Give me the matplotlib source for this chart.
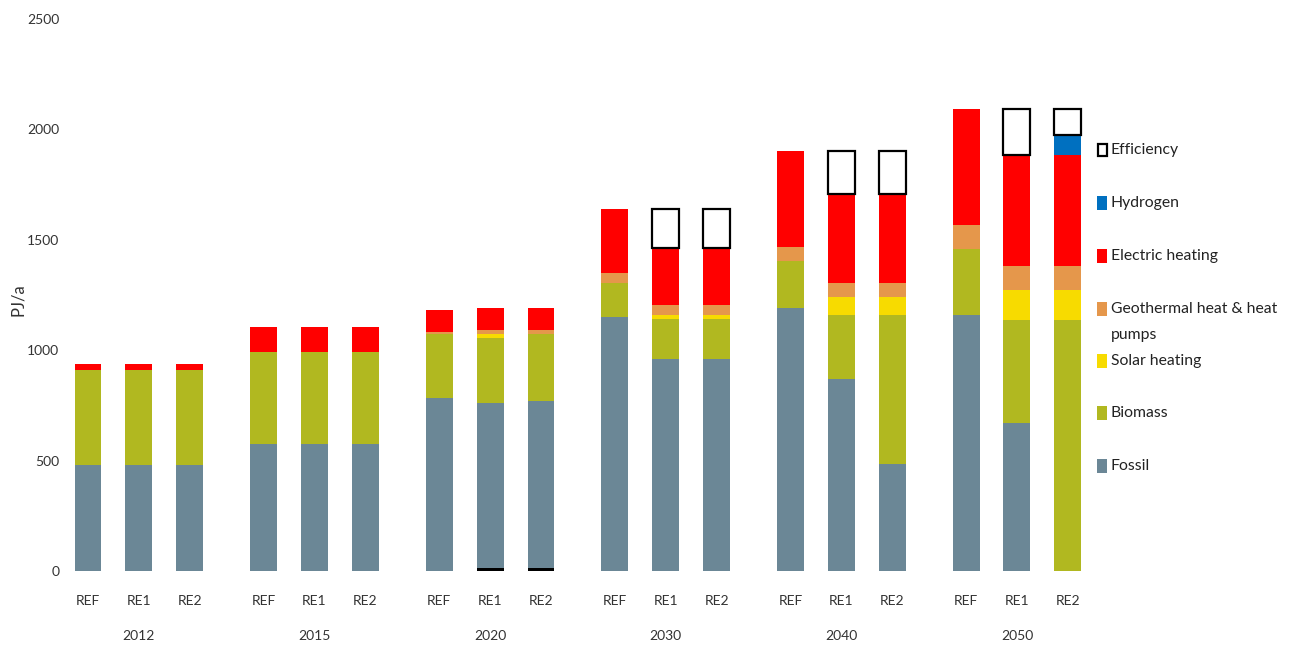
import matplotlib.pyplot as plt
import matplotlib
from matplotlib.patches import Rectangle
import numpy as np

matplotlib.rcParams['font.family'] = ['Lato', 'DejaVu Sans']

years = ['2012', '2015', '2020', '2030', '2040', '2050']
scenarios = ['REF', 'RE1', 'RE2']

# values per bar, order: 2012 REF/RE1/RE2, 2015 ..., 2050 RE2  (PJ/a)
other = [0, 0, 0, 0, 0, 0, 0, 14, 14, 0, 0, 0, 0, 0, 0, 0, 0, 0]
fossil = [480, 480, 480, 575, 575, 575, 784, 747, 756,
          1151, 960, 960, 1191, 870, 485, 1160, 670, 0]
biomass = [430, 430, 430, 417, 417, 417, 290, 294, 304,
           154, 182, 182, 213, 290, 675, 299, 467, 1137]
solar = [0, 0, 0, 0, 0, 0, 0, 19, 0,
         0, 18, 18, 0, 81, 81, 0, 136, 136]
geothermal = [0, 0, 0, 0, 0, 0, 9, 18, 18,
              45, 45, 45, 64, 64, 64, 108, 109, 109]
electric = [28, 28, 28, 113, 113, 113, 99, 99, 99,
            290, 258, 258, 435, 403, 403, 526, 502, 502]
hydrogen = [0, 0, 0, 0, 0, 0, 0, 0, 0,
            0, 0, 0, 0, 0, 0, 0, 0, 91]
efficiency = [0, 0, 0, 0, 0, 0, 0, 0, 0,
              0, 177, 177, 0, 195, 195, 0, 209, 118]

series = [
    ('Fossil', fossil, '#6b8796'),
    ('Biomass', biomass, '#b1b820'),
    ('Solar heating', solar, '#f7db00'),
    ('Geothermal heat & heat\npumps', geothermal, '#e5974b'),
    ('Electric heating', electric, '#ff0000'),
    ('Hydrogen', hydrogen, '#0070c0'),
]

fig = plt.figure(figsize=(12.89, 6.48), dpi=100)
W, H = 1289.0, 648.0
ax = fig.add_axes([65 / W, (H - 571) / H, (1085 - 65) / W, (571 - 19) / H])

group_step = 3.45
x = np.array([g * group_step + i for g in range(len(years)) for i in range(3)])
bw = 0.53

bottom = np.zeros(len(x))
ax.bar(x, other, bw, bottom=bottom, color='black', linewidth=0)
bottom += np.array(other)
for name, vals, col in series:
    ax.bar(x, vals, bw, bottom=bottom, color=col, linewidth=0)
    bottom += np.array(vals)
eff = np.array(efficiency)
mask = eff > 0
ax.bar(x[mask], eff[mask], bw, bottom=bottom[mask], facecolor='white',
       edgecolor='black', linewidth=1.6)

ax.set_ylim(0, 2500)
ax.set_xlim((65 - 88) / 50.9, (1085 - 88) / 50.9)
ax.set_yticks([0, 500, 1000, 1500, 2000, 2500])
ax.set_xticks(x)
ax.set_xticklabels(scenarios * len(years))
ax.tick_params(axis='both', length=0, labelsize=10, colors='#333333')
ax.tick_params(axis='x', pad=17)
ax.tick_params(axis='y', pad=4)
for s in ax.spines.values():
    s.set_visible(False)

for g, yr in enumerate(years):
    ax.annotate(yr, xy=(g * group_step + 1, 0), xycoords=('data', 'axes fraction'),
                xytext=(0, -47), textcoords='offset points', ha='center', va='center',
                fontsize=10, color='#333333')

fig.text(18 / W, 1 - 300 / H, 'PJ/a', rotation=90, ha='center', va='center',
         fontsize=12, color='#333333')

# legend
legend_items = [('Efficiency', 'white', 'black'),
                ('Hydrogen', '#0070c0', None),
                ('Electric heating', '#ff0000', None),
                ('Geothermal heat & heat', '#e5974b', None),
                ('Solar heating', '#f7db00', None),
                ('Biomass', '#b1b820', None),
                ('Fossil', '#6b8796', None)]
ys = [150, 203, 256, 309, 361, 413, 466]
for (lab, fc, ec), yy in zip(legend_items, ys):
    if ec:
        r = Rectangle((1098 / W, 1 - (yy + 6) / H), 9 / W, 12 / H, transform=fig.transFigure,
                      facecolor=fc, edgecolor=ec, linewidth=1.6)
    else:
        r = Rectangle((1097 / W, 1 - (yy + 7) / H), 10 / W, 14 / H, transform=fig.transFigure,
                      facecolor=fc, edgecolor='none')
    fig.patches.append(r)
    fig.text(1111 / W, 1 - yy / H, lab, ha='left', va='center', fontsize=11.3, color='#222222')
fig.text(1111 / W, 1 - 335 / H, 'pumps', ha='left', va='center', fontsize=11.3, color='#222222')

plt.savefig('out.png', dpi=100)
